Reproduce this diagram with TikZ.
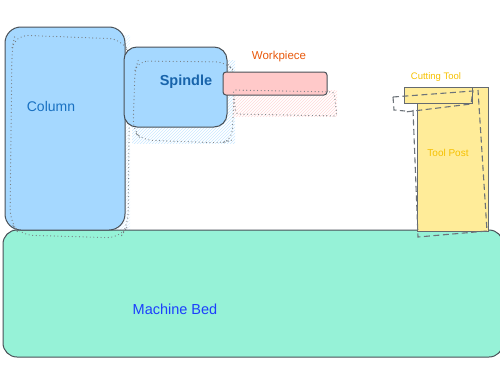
\documentclass[tikz,border=0pt]{standalone}
\usepackage{fontspec}
\setmainfont{Liberation Sans}
\usetikzlibrary{patterns}
\definecolor{edge}{HTML}{495057}
\definecolor{blue1}{HTML}{A5D8FF}
\definecolor{teal1}{HTML}{96F2D7}
\definecolor{pink1}{HTML}{FFC9C9}
\definecolor{yel1}{HTML}{FFEC99}
\definecolor{tcol}{HTML}{1971C2}
\definecolor{tspin}{HTML}{1864AB}
\definecolor{twork}{HTML}{E8590C}
\definecolor{tyel}{HTML}{F5C000}
\definecolor{tbed}{HTML}{1C3FFD}
\tikzset{
  solidpart/.style={draw=edge, line width=1pt},
  ghost/.style={draw=edge!75, line width=1.2pt, line cap=round, dash pattern=on 0pt off 3.6pt},
  ghostdash/.style={draw=edge!80, line width=1.1pt, dash pattern=on 6pt off 3.5pt},
  lbl/.style={inner sep=0pt, anchor=center},
}
\begin{document}
\begin{tikzpicture}[x=1pt,y=-1pt]
\useasboundingbox (0,0) rectangle (500,380);
% shadows (hatched)
\path[pattern=north east lines, pattern color=blue1!60] (132,60) rectangle (235,143);
\path[pattern=north east lines, pattern color=pink1!70] (233,90) rectangle (337,116);
\path[pattern=north east lines, pattern color=blue1!35] (12,35) rectangle (130,238);
% machine bed
\draw[solidpart, fill=teal1, rounded corners=14pt] (3,230) rectangle (503,357);
% column
\draw[solidpart, fill=blue1, rounded corners=16pt] (5,27) rectangle (125,230);
\draw[ghost, rounded corners=13pt] (15,35) -- (122,39) -- (130,55) -- (128,226) -- (120,238) -- (20,235) -- (10,222) -- (12,48) -- cycle;
% spindle
\draw[solidpart, fill=blue1, rounded corners=13pt] (124,47) rectangle (227,127);
\draw[ghost, rounded corners=10pt] (138,61) -- (226,62) -- (235,72) -- (232,140) -- (222,143) -- (142,140) -- (133,130) -- (135,70) -- cycle;
% workpiece
\draw[solidpart, fill=pink1, rounded corners=3pt] (223,72) rectangle (327,95);
\draw[ghost, rounded corners=3pt] (233,90) -- (334,92) -- (337,116) -- (236,114) -- cycle;
% tool post
\draw[solidpart, draw=edge!85, fill=yel1] (417,87) rectangle (488,231);
\draw[solidpart, draw=edge!85, fill=yel1] (404,87) rectangle (472,103);
\draw[ghostdash] (413,110) -- (418,237) -- (487,231) -- (478,90);
\draw[ghostdash] (393,97) -- (473,91) -- (471,104) -- (405,112);
\draw[ghostdash] (393,97) -- (394,110) -- (405,111);
% labels
\node[lbl, text=tcol, font=\fontsize{14}{16}\selectfont] (column) at (51,106) {Column};
\node[lbl, text=tspin, font=\bfseries\fontsize{14.5}{16}\selectfont] (spindle) at (186,82) {Spindle};
\node[lbl, text=twork, font=\fontsize{11.5}{13}\selectfont] (workpiece) at (279,57) {Workpiece};
\node[lbl, text=tyel, font=\fontsize{9.5}{11}\selectfont] (cutting) at (436,77) {Cutting Tool};
\node[lbl, text=tyel, font=\fontsize{10}{12}\selectfont] (toolpost) at (448,153) {Tool Post};
\node[lbl, text=tbed, font=\fontsize{14.5}{16}\selectfont] (bed) at (175,309) {Machine Bed};
\end{tikzpicture}
\end{document}
